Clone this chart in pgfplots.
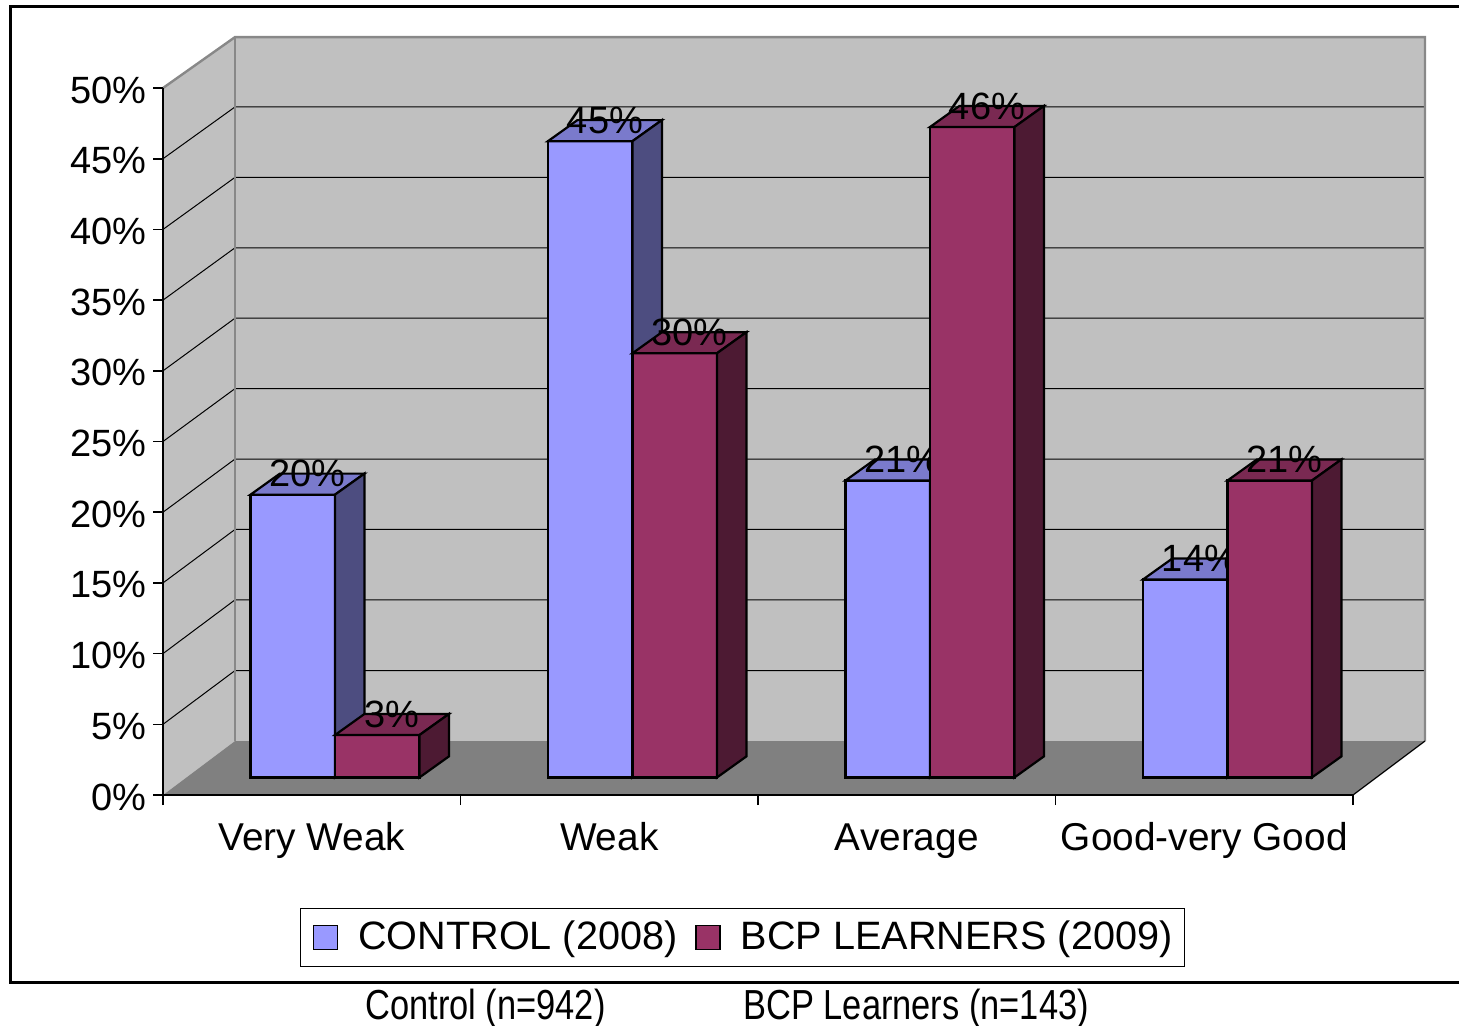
\documentclass[border=0pt]{standalone}
\usepackage{pgfplots}
\pgfplotsset{compat=1.18}
\usepackage{pgfplotstable}
\usepackage{fontspec}
\setmainfont{Liberation Sans}
\newfontfamily\narrowfont[FakeStretch=0.82]{Liberation Sans}

\definecolor{ctrlF}{HTML}{9999FF}
\definecolor{ctrlT}{HTML}{7A7ACC}
\definecolor{ctrlS}{HTML}{4D4D80}
\definecolor{bcpF}{HTML}{993366}
\definecolor{bcpT}{HTML}{7A2952}
\definecolor{bcpS}{HTML}{4D1A33}
\definecolor{wallc}{HTML}{C0C0C0}
\definecolor{floorc}{HTML}{808080}
\definecolor{edgec}{HTML}{888888}

\pgfplotstableread{
cat ctrl bcp
0 20 3
1 45 30
2 21 46
3 14 21
}\datatable

\pgfplotsset{
  baredge/.style={draw=black, line width=1.1pt, line join=miter},
  ctrlfront/.style={baredge, fill=ctrlF},
  ctrltop/.style={baredge, fill=ctrlT},
  ctrlside/.style={baredge, fill=ctrlS},
  bcpfront/.style={baredge, fill=bcpF},
  bcptop/.style={baredge, fill=bcpT},
  bcpside/.style={baredge, fill=bcpS},
}

% geometry of the oblique 3D look (axis units)
\def\bw{0.284}   % bar width
\def\fx{0.078}   % front plane offset x
\def\fy{1.24}    % front plane offset y
\def\ddx{0.099}  % bar depth x
\def\ddy{1.49}   % bar depth y

% #1 category index, #2 value, #3 series prefix, #4 offset of left edge within category
\newcommand\threedbar[4]{%
  \pgfmathsetmacro\xa{#1+#4+\fx}%
  \pgfmathsetmacro\xb{#1+#4+\fx+\bw}%
  \pgfmathsetmacro\xc{#1+#4+\fx+\ddx}%
  \pgfmathsetmacro\xd{#1+#4+\fx+\bw+\ddx}%
  \pgfmathsetmacro\ya{\fy}%
  \pgfmathsetmacro\yb{\fy+\ddy}%
  \pgfmathsetmacro\yh{#2+\fy}%
  \pgfmathsetmacro\yt{#2+\fy+\ddy}%
  \pgfmathsetmacro\xl{#1+#4+\fx+\bw/2+\ddx/2}%
  \edef\doit{%
    \noexpand\addplot[#3front] coordinates {(\xa,\ya) (\xb,\ya) (\xb,\yh) (\xa,\yh)} -- cycle;
    \noexpand\addplot[#3top] coordinates {(\xa,\yh) (\xb,\yh) (\xd,\yt) (\xc,\yt)} -- cycle;
    \noexpand\addplot[#3side] coordinates {(\xb,\ya) (\xd,\yb) (\xd,\yt) (\xb,\yh)} -- cycle;
    \noexpand\node[anchor=center, inner sep=0pt] at (axis cs:\xl,\yt) {#2\noexpand\%};
  }\doit
}

\begin{document}
\fontsize{19}{23}\selectfont
\begin{tikzpicture}
\path[use as bounding box] (0pt,0pt) rectangle (729.5pt,-513pt);
\begin{axis}[
  at={(81.5pt,-397.5pt)}, anchor=south west,
  scale only axis, width=595pt, height=353.5pt,
  xmin=0, xmax=4, ymin=0, ymax=50,
  clip=false, axis on top,
  axis x line=bottom, axis y line=left,
  axis line style={-, black, line width=0.8pt},
  tick style={black, line width=0.8pt},
  tick align=outside, major tick length=5pt,
  xtick={0,1,2,3,4}, xticklabels={},
  extra x ticks={0.5,1.5,2.5,3.5},
  extra x tick labels={Very Weak,Weak,Average,Good-very Good},
  extra x tick style={major tick length=0pt, xticklabel style={anchor=base, yshift=-27.5pt, font=\fontsize{19.4}{23}\selectfont}},
  ytick={0,5,...,50}, yticklabel={\pgfmathprintnumber{\tick}\%},
  yticklabel style={anchor=east, inner sep=0pt, xshift=-3pt, yshift=-1pt},
  /pgf/number format/assume math mode=true,
  legend columns=2,
  legend image code/.code={\draw[#1, line width=0.8pt] (0pt,-6pt) rectangle (12pt,6pt);},
  legend style={at={(0.487,-0.2016)}, anchor=center, draw=black, line width=0.6pt,
    inner xsep=6pt, inner ysep=6pt, nodes={inner sep=0pt},
    font=\fontsize{19.8}{24}\selectfont,
    /tikz/every odd column/.append style={column sep=10pt},
    /tikz/every even column/.append style={column sep=9pt}},
]
\addlegendimage{ctrlfront}\addlegendentry{CONTROL (2008)}
\addlegendimage{bcpfront}\addlegendentry{BCP LEARNERS (2009)}

% walls and floor
\fill[wallc] (axis cs:0,0) -- (axis cs:0.242,3.819) -- (axis cs:0.242,53.6) -- (axis cs:0,50) -- cycle;
\fill[wallc] (axis cs:0.242,3.819) rectangle (axis cs:4.242,53.6);
\fill[floorc] (axis cs:0,0) -- (axis cs:4,0) -- (axis cs:4.242,3.819) -- (axis cs:0.242,3.819) -- cycle;
% grid lines
\draw[black, line width=0.5pt] (axis cs:0,5) -- (axis cs:0.242,8.8) -- (axis cs:4.242,8.8);
\draw[black, line width=0.5pt] (axis cs:0,10) -- (axis cs:0.242,13.8) -- (axis cs:4.242,13.8);
\draw[black, line width=0.5pt] (axis cs:0,15) -- (axis cs:0.242,18.78) -- (axis cs:4.242,18.78);
\draw[black, line width=0.5pt] (axis cs:0,20) -- (axis cs:0.242,23.76) -- (axis cs:4.242,23.76);
\draw[black, line width=0.5pt] (axis cs:0,25) -- (axis cs:0.242,28.74) -- (axis cs:4.242,28.74);
\draw[black, line width=0.5pt] (axis cs:0,30) -- (axis cs:0.242,33.72) -- (axis cs:4.242,33.72);
\draw[black, line width=0.5pt] (axis cs:0,35) -- (axis cs:0.242,38.7) -- (axis cs:4.242,38.7);
\draw[black, line width=0.5pt] (axis cs:0,40) -- (axis cs:0.242,43.68) -- (axis cs:4.242,43.68);
\draw[black, line width=0.5pt] (axis cs:0,45) -- (axis cs:0.242,48.66) -- (axis cs:4.242,48.66);
% wall edges
\draw[edgec, line width=1.2pt] (axis cs:0,50) -- (axis cs:0.242,53.6) -- (axis cs:4.242,53.6) -- (axis cs:4.242,3.819);
\draw[edgec, line width=1.2pt] (axis cs:0.242,3.819) -- (axis cs:0.242,53.6);
\draw[black, line width=0.6pt] (axis cs:4,0) -- (axis cs:4.242,3.819);

% bars
\pgfplotsforeachungrouped \i in {0,1,2,3}{%
  \pgfplotstablegetelem{\i}{ctrl}\of\datatable \let\vc\pgfplotsretval
  \pgfplotstablegetelem{\i}{bcp}\of\datatable \let\vb\pgfplotsretval
  \threedbar{\i}{\vc}{ctrl}{0.216}%
  \threedbar{\i}{\vb}{bcp}{0.5}%
}
\end{axis}
\begin{scope}[x=0.5pt,y=-0.5pt]
\draw[line width=1.5pt] (1459,982) -- (10,982) -- (10,7) -- (1459,7);
\node[anchor=base west, inner sep=0pt, font=\narrowfont\fontsize{21}{25}\selectfont] at (365,1019) {Control (n=942)};
\node[anchor=base west, inner sep=0pt, font=\narrowfont\fontsize{21}{25}\selectfont] at (743,1019) {BCP Learners (n=143)};
\end{scope}
\end{tikzpicture}
\end{document}
